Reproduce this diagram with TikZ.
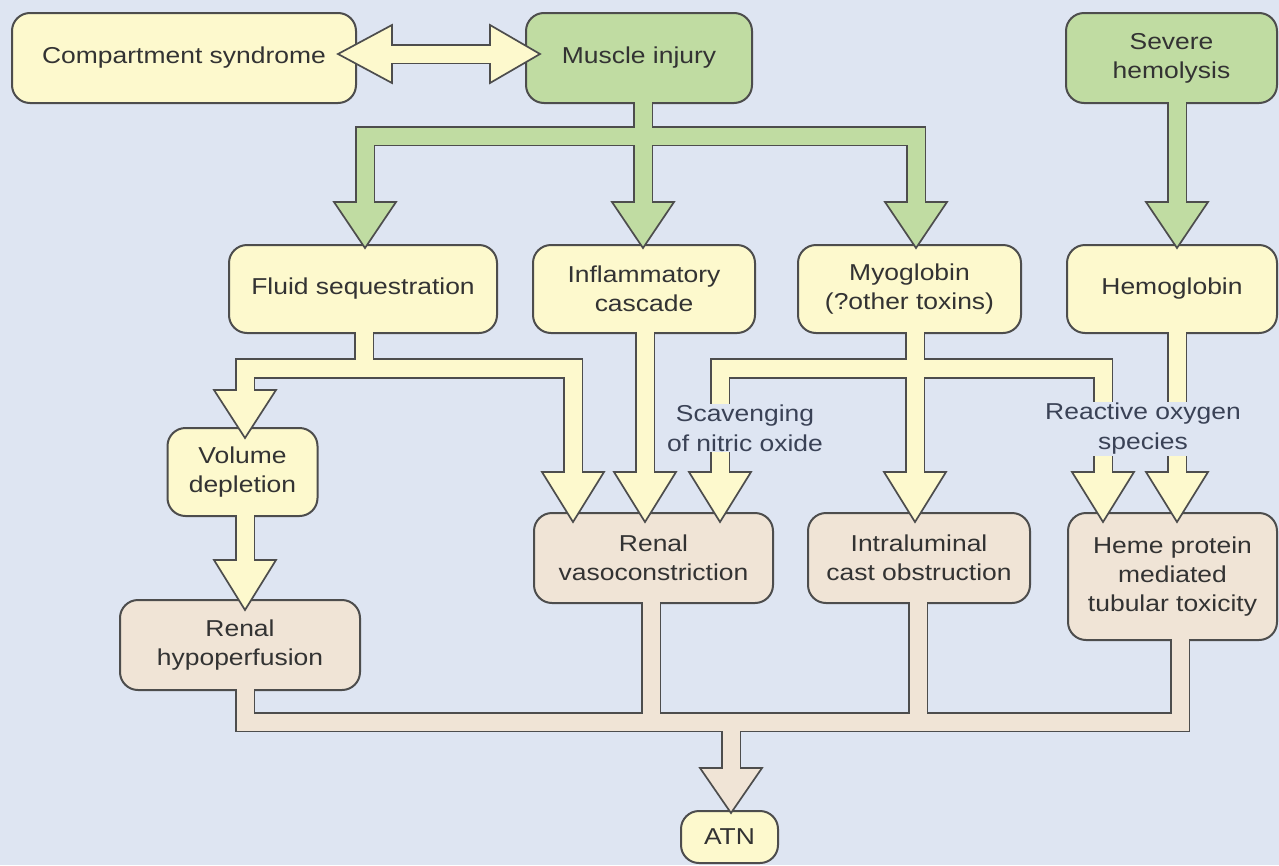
\documentclass[tikz,border=0pt]{standalone}
\usepackage{fontspec}
\setmainfont[FakeStretch=1.15]{Liberation Sans}
\usetikzlibrary{calc}
\definecolor{bg}{HTML}{DEE5F2}
\definecolor{yel}{HTML}{FDF9CD}
\definecolor{grn}{HTML}{C0DCA2}
\definecolor{bei}{HTML}{F0E4D6}
\definecolor{edge}{HTML}{4D4D4D}
\definecolor{txt}{HTML}{333333}
\definecolor{lbl}{HTML}{3A4256}
\tikzset{
  box/.style={draw=edge, line width=2, rounded corners=18, align=center, text=txt,
    font=\fontsize{23}{29}\selectfont, inner sep=0pt},
  sho/.style={draw=edge, line width=20.5, line join=miter, line cap=butt},
  shi/.style={line width=17, line join=miter, line cap=butt},
  hd/.style={draw=edge, line width=1.7, line join=miter},
  lab/.style={fill=bg, text=lbl, align=center, inner sep=1pt,
    font=\fontsize{23}{30}\selectfont}
}
\newcommand{\dhead}[4]{\filldraw[hd,fill=#1] (#2-31,#3) -- (#2+31,#3) -- (#2,#4) -- cycle;}
\begin{document}
\begin{tikzpicture}[x=1pt,y=-1pt]
\fill[bg] (0,0) rectangle (1279,865);
\useasboundingbox (0,0) rectangle (1279,865);

% boxes
\node[box,fill=yel,minimum width=344,minimum height=90] (comp) at (184,58) {Compartment syndrome};
\node[box,fill=grn,minimum width=226,minimum height=90] (muscle) at (639,58) {Muscle injury};
\node[box,fill=grn,minimum width=211,minimum height=90] (severe) at (1171.5,58) {Severe\\hemolysis};
\node[box,fill=yel,minimum width=268,minimum height=88] (fluid) at (363,289) {Fluid sequestration};
\node[box,fill=yel,minimum width=222,minimum height=88] (inflam) at (644,289) {Inflammatory\\cascade};
\node[box,fill=yel,minimum width=223,minimum height=88] (myo) at (909.5,289) {Myoglobin\\(?other toxins)};
\node[box,fill=yel,minimum width=210,minimum height=88] (hemo) at (1172,289) {Hemoglobin};
\node[box,fill=yel,minimum width=150,minimum height=88] (vol) at (242.5,472) {Volume\\depletion};
\node[box,fill=bei,minimum width=239,minimum height=90] (rvaso) at (653.5,558) {Renal\\vasoconstriction};
\node[box,fill=bei,minimum width=222,minimum height=90] (intra) at (919,558) {Intraluminal\\cast obstruction};
\node[box,fill=bei,minimum width=209,minimum height=127] (heme) at (1172.5,576.5) {Heme protein\\mediated\\tubular toxicity};
\node[box,fill=bei,minimum width=240,minimum height=90] (rhypo) at (240,645) {Renal\\hypoperfusion};
\node[box,fill=yel,minimum width=97,minimum height=52] (atn) at (729.5,837) {ATN};

% junction coordinates
\coordinate (gbarL) at (365,136);
\coordinate (gbarR) at (916,136);
\coordinate (fbarL) at (245,368.5);
\coordinate (fbarR) at (573,368.5);
\coordinate (mbarL) at (720,368.5);
\coordinate (mbarR) at (1103,368.5);
\coordinate (bbarL) at (245,722);
\coordinate (bbarR) at (1180,722);

% ---- green connectors ----
\draw[sho] (643,104) -- (643,202)
  (gbarL |- 0,202) -- (gbarL) -- (gbarR) -- (gbarR |- 0,202)
  (1177,104) -- (1177,202);
\draw[sho] (392,54) -- (490,54);
\dhead{grn}{365}{202}{248}
\dhead{grn}{643}{202}{248}
\dhead{grn}{916}{202}{248}
\dhead{grn}{1177}{202}{248}
\filldraw[hd,fill=yel] (392,25) -- (392,83) -- (338,54) -- cycle;
\filldraw[hd,fill=yel] (490,25) -- (490,83) -- (540,54) -- cycle;
\draw[shi,draw=grn] (643,101) -- (643,204)
  (gbarL |- 0,204) -- (gbarL) -- (gbarR) -- (gbarR |- 0,204)
  (1177,101) -- (1177,204);
\draw[shi,draw=yel] (390,54) -- (492,54);

% ---- yellow connectors ----
\draw[sho] (364,332) -- (364,368.5)
  (fbarL |- 0,390) -- (fbarL) -- (fbarR) -- (fbarR |- 0,472)
  (645,332) -- (645,472)
  (915,332) -- (915,472)
  (mbarL |- 0,472) -- (mbarL) -- (mbarR) -- (mbarR |- 0,472)
  (1177,332) -- (1177,472)
  (245,515) -- (245,560);
\dhead{yel}{245}{390}{438}
\dhead{yel}{573}{472}{522}
\dhead{yel}{645}{472}{522}
\dhead{yel}{720}{472}{522}
\dhead{yel}{915}{472}{522}
\dhead{yel}{1103}{472}{522}
\dhead{yel}{1177}{472}{522}
\dhead{yel}{245}{560}{610}
\draw[shi,draw=yel] (364,331) -- (364,368.5)
  (fbarL |- 0,392) -- (fbarL) -- (fbarR) -- (fbarR |- 0,474)
  (645,331) -- (645,474)
  (915,331) -- (915,474)
  (mbarL |- 0,474) -- (mbarL) -- (mbarR) -- (mbarR |- 0,474)
  (1177,331) -- (1177,474)
  (245,514) -- (245,562);

% labels over shafts
\node[lab] (scav) at (745,428) {Scavenging\\of nitric oxide};
\node[lab] (ros) at (1143,429) {Reactive oxygen\\species};

% ---- beige connectors ----
\draw[sho] (245,689) -- (bbarL) -- (bbarR) -- (1180,639)
  (651,602) -- (651,722)
  (918,602) -- (918,722)
  (731,722) -- (731,768);
\dhead{bei}{731}{768}{813}
\draw[shi,draw=bei] (245,688) -- (bbarL) -- (bbarR) -- (1180,638)
  (651,601) -- (651,722)
  (918,601) -- (918,722)
  (731,722) -- (731,770);
\end{tikzpicture}
\end{document}
